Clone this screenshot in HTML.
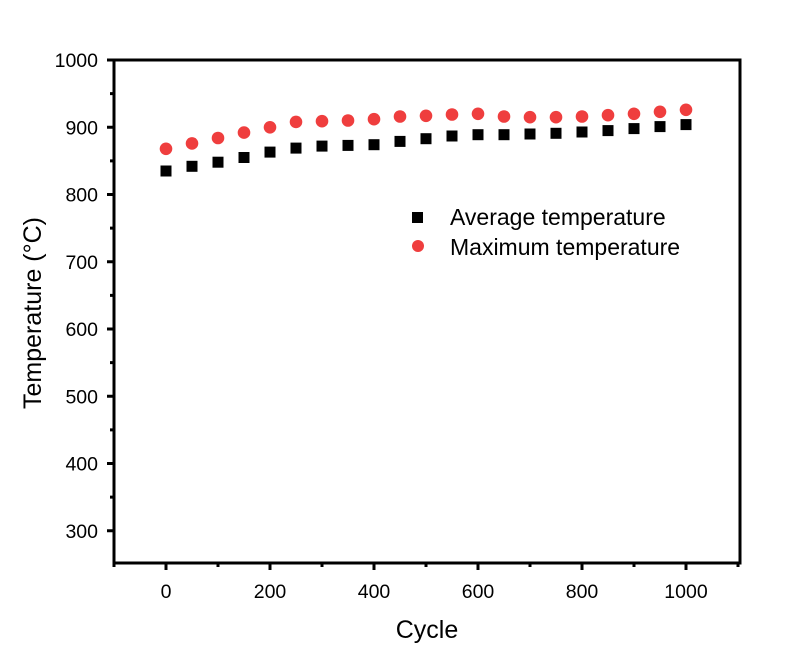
<!DOCTYPE html><html><head><style>body{margin:0;background:#fff}</style></head><body>
<svg width="790" height="660" xmlns="http://www.w3.org/2000/svg" font-family="Liberation Sans, Arial, sans-serif">
<rect width="790" height="660" fill="#fff"/>
<g fill="#ef3e3e">
<circle cx="166" cy="148.8" r="6.3"/><circle cx="192" cy="143.4" r="6.3"/><circle cx="218" cy="138" r="6.3"/><circle cx="244" cy="132.6" r="6.3"/><circle cx="270" cy="127.3" r="6.3"/><circle cx="296" cy="121.9" r="6.3"/><circle cx="322" cy="121.2" r="6.3"/><circle cx="348" cy="120.5" r="6.3"/><circle cx="374" cy="119.2" r="6.3"/><circle cx="400" cy="116.5" r="6.3"/><circle cx="426" cy="115.8" r="6.3"/><circle cx="452" cy="114.5" r="6.3"/><circle cx="478" cy="113.8" r="6.3"/><circle cx="504" cy="116.5" r="6.3"/><circle cx="530" cy="117.2" r="6.3"/><circle cx="556" cy="117.2" r="6.3"/><circle cx="582" cy="116.5" r="6.3"/><circle cx="608" cy="115.2" r="6.3"/><circle cx="634" cy="113.8" r="6.3"/><circle cx="660" cy="111.8" r="6.3"/><circle cx="686" cy="109.8" r="6.3"/>
</g>
<g fill="#000">
<rect x="160.5" y="165.5" width="11" height="11"/><rect x="186.5" y="160.8" width="11" height="11"/><rect x="212.5" y="156.7" width="11" height="11"/><rect x="238.5" y="152" width="11" height="11"/><rect x="264.5" y="146.6" width="11" height="11"/><rect x="290.5" y="142.6" width="11" height="11"/><rect x="316.5" y="140.6" width="11" height="11"/><rect x="342.5" y="139.9" width="11" height="11"/><rect x="368.5" y="139.2" width="11" height="11"/><rect x="394.5" y="135.9" width="11" height="11"/><rect x="420.5" y="133.2" width="11" height="11"/><rect x="446.5" y="130.5" width="11" height="11"/><rect x="472.5" y="129.2" width="11" height="11"/><rect x="498.5" y="129.2" width="11" height="11"/><rect x="524.5" y="128.5" width="11" height="11"/><rect x="550.5" y="127.8" width="11" height="11"/><rect x="576.5" y="126.5" width="11" height="11"/><rect x="602.5" y="125.1" width="11" height="11"/><rect x="628.5" y="123.1" width="11" height="11"/><rect x="654.5" y="121.1" width="11" height="11"/><rect x="680.5" y="119.1" width="11" height="11"/>
</g>
<g stroke="#000" stroke-width="3" fill="none">
<rect x="114" y="60" width="626" height="503"/>
<path d="M114 563V567M166 563V570M218 563V567M270 563V570M322 563V567M374 563V570M426 563V567M478 563V570M530 563V567M582 563V570M634 563V567M686 563V570M738 563V567"/>
<path d="M114 60H107M114 93.6H110M114 127.3H107M114 160.9H110M114 194.5H107M114 228.1H110M114 261.8H107M114 295.4H110M114 329H107M114 362.6H110M114 396.3H107M114 429.9H110M114 463.5H107M114 497.1H110M114 530.8H107"/>
</g>
<g font-size="19.5" fill="#000" text-anchor="middle">
<text x="166" y="598">0</text><text x="270" y="598">200</text><text x="374" y="598">400</text><text x="478" y="598">600</text><text x="582" y="598">800</text><text x="686" y="598">1000</text>
</g>
<g font-size="19.5" fill="#000" text-anchor="end">
<text x="98" y="67">1000</text><text x="98" y="134.3">900</text><text x="98" y="201.5">800</text><text x="98" y="268.8">700</text><text x="98" y="336">600</text><text x="98" y="403.3">500</text><text x="98" y="470.5">400</text><text x="98" y="537.8">300</text>
</g>
<text x="427" y="638" font-size="25" text-anchor="middle">Cycle</text>
<text transform="translate(41,313) rotate(-90)" font-size="25" text-anchor="middle">Temperature (°C)</text>
<rect x="412" y="212" width="11" height="11" fill="#000"/>
<text x="450" y="225" font-size="23">Average temperature</text>
<circle cx="418" cy="246" r="6" fill="#ef3e3e"/>
<text x="450" y="255" font-size="23">Maximum temperature</text>
</svg></body></html>
